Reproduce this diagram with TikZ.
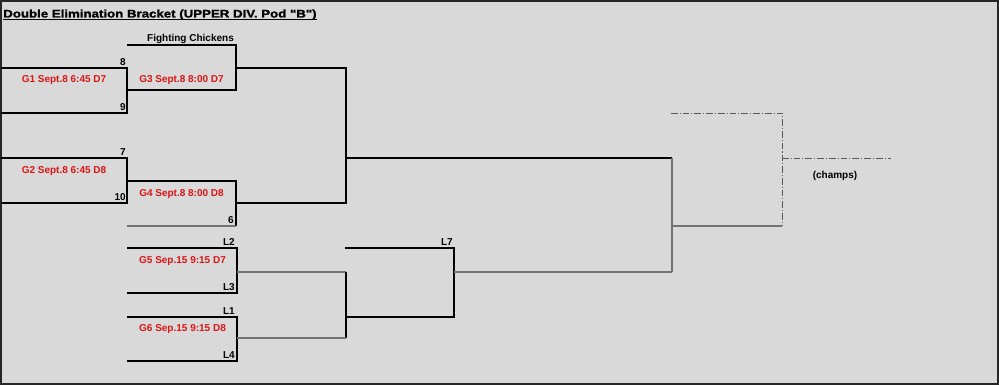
\documentclass[tikz,border=0pt]{standalone}
\usepackage{fontspec}
\setmainfont{Liberation Sans}
\newfontfamily\titlefont[FakeStretch=1.205, FakeBold=1.6]{Liberation Sans Bold}
\definecolor{bg}{RGB}{217,217,217}
\definecolor{gred}{RGB}{221,20,20}
\begin{document}
\begin{tikzpicture}[x=0.75pt,y=-0.75pt,
 br/.style={line width=0.8pt, black},
 brg/.style={line width=0.8pt, black!55},
 dd/.style={line width=0.75pt, black!65, dash pattern=on 5pt off 1.5pt on 0.8pt off 1.5pt},
 game/.style={text=gred, font=\bfseries\fontsize{7.5}{9}\selectfont, inner sep=0, anchor=base},
 seed/.style={font=\bfseries\fontsize{7.5}{9}\selectfont, inner sep=0, anchor=base east},
 lbl/.style={font=\bfseries\fontsize{7.5}{9}\selectfont, inner sep=0, anchor=base},
]
\useasboundingbox (0,0) rectangle (999,385);
\fill[bg] (0,0) rectangle (999,385);
\draw[line width=1.5pt, black!85] (1,1) rectangle (998,384);

% title
\node[font=\titlefont\fontsize{8.25}{10}\selectfont, inner sep=0, anchor=base west] (title) at (3,17.5) {Double Elimination Bracket (UPPER DIV. Pod \symbol{34}B\symbol{34})};
\draw[line width=1pt] (title.base west) ++(0,2) coordinate (u1) -- (u1 -| title.east);

% coordinates
\coordinate (a1) at (1,68);   \coordinate (a2) at (127,68);  \coordinate (a3) at (127,113); \coordinate (a4) at (1,113);
\coordinate (b1) at (1,158);  \coordinate (b2) at (127,158); \coordinate (b3) at (127,203); \coordinate (b4) at (1,203);
\coordinate (c1) at (127,45); \coordinate (c2) at (236,45);  \coordinate (c3) at (236,90);  \coordinate (c4) at (127,90);
\coordinate (d1) at (127,181);\coordinate (d2) at (236,181); \coordinate (d3) at (236,226); \coordinate (d4) at (127,226);
\coordinate (e1) at (236,68); \coordinate (e2) at (346,68);  \coordinate (e3) at (346,203); \coordinate (e4) at (236,203);
\coordinate (m1) at (346,158);\coordinate (m2) at (672,158);
\coordinate (f1) at (127,248);\coordinate (f2) at (237,248); \coordinate (f3) at (237,293); \coordinate (f4) at (127,293);
\coordinate (g1) at (127,317);\coordinate (g2) at (237,317); \coordinate (g3) at (237,361); \coordinate (g4) at (127,361);
\coordinate (h1) at (237,272);\coordinate (h2) at (346,272); \coordinate (h3) at (346,338); \coordinate (h4) at (237,338);
\coordinate (k1) at (345,248);\coordinate (k2) at (454,248); \coordinate (k3) at (454,317); \coordinate (k4) at (346,317);
\coordinate (n1) at (454,272);\coordinate (n2) at (672,272);
\coordinate (p1) at (672,226);\coordinate (p2) at (782,226);
\coordinate (q1) at (671,113);\coordinate (q2) at (782,113);
\coordinate (r1) at (782,158);\coordinate (r2) at (891,158);

% bracket lines
\draw[br] (a1) -- (a2) -- (a3) -- (a4);
\draw[br] (b1) -- (b2) -- (b3) -- (b4);
\draw[br] (c1) -- (c2) -- (c3) -- (c4);
\draw[br] (d1) -- (d2) -- (d3);
\draw[brg] (d3) -- (d4);
\draw[br] (e1) -- (e2) -- (e3) -- (e4);
\draw[br] (m1) -- (m2);
\draw[br] (f1) -- (f2) -- (f3) -- (f4);
\draw[br] (g1) -- (g2) -- (g3) -- (g4);
\draw[brg] (h1) -- (h2);
\draw[br] (h2) -- (h3);
\draw[brg] (h3) -- (h4);
\draw[br] (k1) -- (k2) -- (k3) -- (k4);
\draw[brg] (n1) -- (n2);
\draw[brg] (m2) -- (n2);
\draw[brg] (p1) -- (p2);
\draw[dd] (q1) -- (q2) -- (p2);
\draw[dd] (r1) -- (r2);

% game labels
\node[game] (G1) at (64,82.5) {G1 Sept.8 6:45 D7};
\node[game] (G2) at (64,173) {G2 Sept.8 6:45 D8};
\node[game] (G3) at (181.5,83) {G3 Sept.8 8:00 D7};
\node[game] (G4) at (181.5,196) {G4 Sept.8 8:00 D8};
\node[game] (G5) at (182.5,263) {G5 Sep.15 9:15 D7};
\node[game] (G6) at (182.5,331.5) {G6 Sep.15 9:15 D8};

% seeds / labels
\node[seed] (s8) at (126,65.5) {8};
\node[seed] (s9) at (126,110.5) {9};
\node[seed] (s7) at (126,155.5) {7};
\node[seed] (s10) at (126,200.5) {10};
\node[seed] (s6) at (234,223.5) {6};
\node[seed] (sL2) at (235,245.5) {L2};
\node[seed] (sL3) at (235,290.5) {L3};
\node[seed] (sL1) at (235,314.5) {L1};
\node[seed] (sL4) at (235,358.5) {L4};
\node[seed] (sL7) at (453,245.5) {L7};
\node[lbl] (fc) at (190.5,42) {Fighting Chickens};
\node[lbl] (champs) at (835,178) {(champs)};
\end{tikzpicture}
\end{document}
